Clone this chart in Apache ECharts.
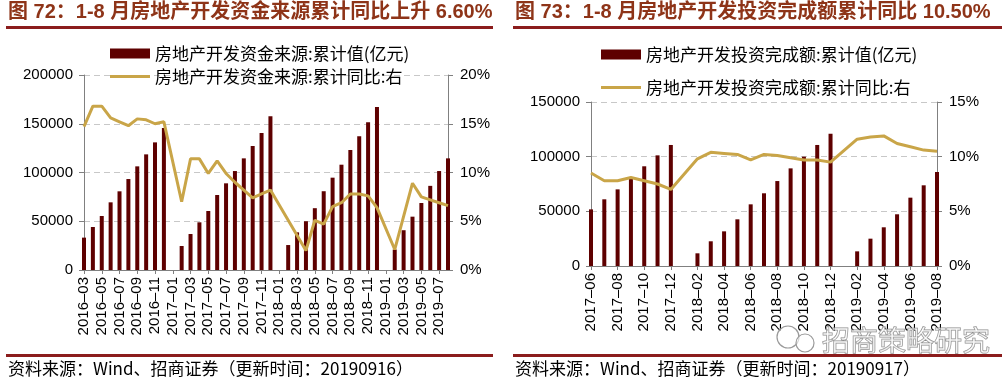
<!DOCTYPE html>
<html><head><meta charset="utf-8">
<script src="https://cdn.jsdelivr.net/npm/echarts@6/dist/echarts.min.js"></script>
<style>html,body{margin:0;padding:0;background:#fff}#c{width:1002px;height:386px}</style>
</head><body><div id="c"></div>
<script>
// ---- Figure 72: funding sources ----
const fundMonths = ['2016-03','2016-04','2016-05','2016-06','2016-07','2016-08','2016-09','2016-10','2016-11','2016-12',
  '2017-01','2017-02','2017-03','2017-04','2017-05','2017-06','2017-07','2017-08','2017-09','2017-10','2017-11','2017-12',
  '2018-01','2018-02','2018-03','2018-04','2018-05','2018-06','2018-07','2018-08','2018-09','2018-10','2018-11','2018-12',
  '2019-01','2019-02','2019-03','2019-04','2019-05','2019-06','2019-07','2019-08'];
const fundValue = [33200,44100,55400,69400,80700,93300,106300,118600,130900,145600,
  null,24600,36900,48900,60500,76900,88900,101500,114500,127200,140500,157600,
  null,25600,38600,50000,63400,80800,94700,108000,123100,137100,151500,167200,
  null,21000,40800,54700,68700,86300,101500,114500];
const fundYoY = [14.7,16.8,16.8,15.6,15.2,14.8,15.5,15.4,15.0,15.2,
  null,7.0,11.4,11.4,9.9,11.2,9.9,9.0,8.2,7.4,7.8,8.2,
  null,null,null,2.0,5.1,4.7,6.5,6.9,7.8,7.8,7.6,6.4,
  null,2.1,null,8.9,7.5,7.2,6.9,6.6];
const fundBarName = '房地产开发资金来源:累计值(亿元)';
const fundLineName = '房地产开发资金来源:累计同比:右';
const fundTitle = '图 72：1-8 月房地产开发资金来源累计同比上升 6.60%';
const fundSource = '资料来源：Wind、招商证券（更新时间：20190916）';

// ---- Figure 73: investment completed ----
const invMonths = ['2017-06','2017-07','2017-08','2017-09','2017-10','2017-11','2017-12',
  '2018-01','2018-02','2018-03','2018-04','2018-05','2018-06','2018-07','2018-08','2018-09','2018-10','2018-11','2018-12',
  '2019-01','2019-02','2019-03','2019-04','2019-05','2019-06','2019-07','2019-08'];
const invValue = [51800,61000,70100,81400,91200,101200,110700,
  null,11600,22600,31700,42700,56400,66500,77700,89300,100000,110700,121000,
  null,13400,25000,35400,47300,62500,73800,86000];
const invYoY = [8.5,7.8,7.8,8.1,7.8,7.5,7.0,
  null,9.8,10.4,10.3,10.2,9.7,10.2,10.1,9.9,9.7,9.7,9.5,
  null,11.6,11.8,11.9,11.2,10.9,10.6,10.5];
const invBarName = '房地产开发投资完成额:累计值(亿元)';
const invLineName = '房地产开发投资完成额:累计同比:右';
const invTitle = '图 73：1-8 月房地产开发投资完成额累计同比 10.50%';
const invSource = '资料来源：Wind、招商证券（更新时间：20190917）';
const watermark = '招商策略研究';

const FONT = '"Liberation Sans", Arial, "Noto Sans CJK SC", sans-serif';
const CJK = '"Noto Sans CJK SC", "Liberation Sans", sans-serif';
const BAR = '#5E0000', LINE = '#C9A548', TITLE = '#8E3418', RULE = '#8B1C1C', AX = '#808080';

function xAxis(gridIndex, data) {
  return {type:'category', gridIndex, data, boundaryGap:false,
    axisLine:{show:true, lineStyle:{color:AX}},
    axisTick:{show:true, interval:1, length:4, lineStyle:{color:AX}},
    axisLabel:{interval:1, rotate:90, margin:7, fontSize:15, color:'#000', fontFamily:FONT,
      formatter:v => v.replace('-', '–')},
    splitLine:{show:false}};
}
function yAxis(gridIndex, position, max, interval, pct) {
  return {type:'value', gridIndex, position, min:0, max, interval,
    axisLine:{show:true, lineStyle:{color:AX}},
    axisTick:{show:true, length:5, lineStyle:{color:AX}},
    axisLabel:{margin:pct ? 12 : 11, fontSize:15, color:'#000', fontFamily:FONT,
      formatter: pct ? (v => v + '%') : (v => String(v))},
    splitLine: pct ? {show:false} : {show:true, lineStyle:{color:'#C8C8C8', type:[6,4]}}};
}
function legend(name, left, top, isLine) {
  return {data:[{name, icon:'rect'}], left, top, itemWidth:40, itemHeight: isLine ? 3 : 10, padding:0,
    textStyle:{fontSize:17, color:'#000', fontFamily:CJK}, selectedMode:false};
}

const chart = echarts.init(document.getElementById('c'), null, {renderer:'canvas'});
chart.setOption({
  animation:false,
  backgroundColor:'#fff',
  title:[
    {text:fundTitle, left:8, top:2, padding:0, textStyle:{fontSize:20, fontWeight:'bold', color:TITLE, fontFamily:FONT}},
    {text:invTitle, left:515, top:2, padding:0, textStyle:{fontSize:20, fontWeight:'bold', color:TITLE, fontFamily:FONT}}
  ],
  legend:[
    legend(fundBarName, 110, 45, false),
    legend(fundLineName, 110, 68, true),
    legend(invBarName, 601, 46, false),
    legend(invLineName, 601, 79, true)
  ],
  grid:[
    {left:84, top:75, width:364, height:195},
    {left:591, top:102, width:346, height:164}
  ],
  xAxis:[xAxis(0, fundMonths), xAxis(1, invMonths)],
  yAxis:[yAxis(0,'left',200000,50000,false), yAxis(0,'right',20,5,true),
         yAxis(1,'left',150000,50000,false), yAxis(1,'right',15,5,true)],
  series:[
    {name:fundBarName, type:'bar', xAxisIndex:0, yAxisIndex:0, data:fundValue, barWidth:4, itemStyle:{color:BAR}},
    {name:fundLineName, type:'line', xAxisIndex:0, yAxisIndex:1, data:fundYoY, connectNulls:true, symbol:'none',
      lineStyle:{color:LINE, width:3}, itemStyle:{color:LINE}, z:5},
    {name:invBarName, type:'bar', xAxisIndex:1, yAxisIndex:2, data:invValue, barWidth:4, itemStyle:{color:BAR}},
    {name:invLineName, type:'line', xAxisIndex:1, yAxisIndex:3, data:invYoY, connectNulls:true, symbol:'none',
      lineStyle:{color:LINE, width:3}, itemStyle:{color:LINE}, z:5}
  ],
  graphic:[
    {type:'rect', shape:{x:6, y:26, width:487, height:3}, style:{fill:RULE}},
    {type:'rect', shape:{x:513, y:26, width:489, height:3}, style:{fill:RULE}},
    {type:'rect', shape:{x:6, y:354, width:487, height:3}, style:{fill:RULE}},
    {type:'rect', shape:{x:513, y:354, width:489, height:3}, style:{fill:RULE}},
    {type:'text', x:8, y:369, style:{text:fundSource, fill:'#000', font:'17px ' + CJK, verticalAlign:'middle'}},
    {type:'text', x:515, y:369, style:{text:invSource, fill:'#000', font:'17px ' + CJK, verticalAlign:'middle'}},
    {type:'circle', shape:{cx:788, cy:337, r:11}, style:{fill:'rgba(255,255,255,0.6)', stroke:'#9a9a9a', lineWidth:1.2}, z:100},
    {type:'circle', shape:{cx:805, cy:343, r:9}, style:{fill:'rgba(255,255,255,0.6)', stroke:'#9a9a9a', lineWidth:1.2}, z:100},
    {type:'text', x:822, y:340, z:100, style:{text:watermark, font:'28px ' + CJK, fill:'rgba(255,255,255,0.5)', stroke:'#8a8a8a', lineWidth:1, verticalAlign:'middle'}}
  ]
});
</script>
</body></html>
